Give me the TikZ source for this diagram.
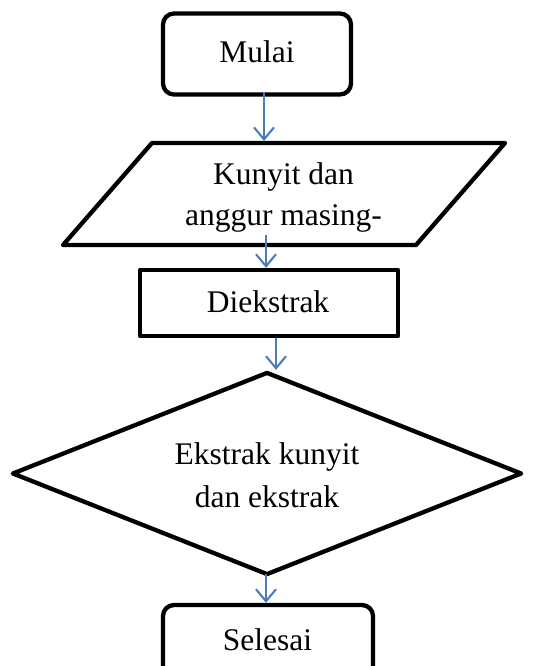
\documentclass[tikz,border=0pt]{standalone}
\usepackage{fontspec}
\setmainfont{Liberation Serif}
\usetikzlibrary{arrows.meta,shapes.geometric}
\definecolor{arrblue}{RGB}{74,126,187}
\begin{document}
\begin{tikzpicture}[x=1pt,y=-1pt,
  box/.style={draw=black, line width=4.3pt, inner sep=0pt, line join=round},
  shp/.style={draw=black, line width=4.3pt, line join=round},
  lbl/.style={anchor=base, inner sep=0pt, font=\fontsize{31.5}{41}\selectfont},
  arr/.style={draw=arrblue, line width=2.1pt, -{Straight Barb[length=12pt,width=20pt,line width=2.1pt]}}]
\useasboundingbox (0,0) rectangle (539,666);
\clip (0,0) rectangle (539,666);

% Mulai
\node[box, rounded corners=11pt, minimum width=188pt, minimum height=81pt] (start) at (257,54) {};
\node[lbl] (startl) at (257,63) {Mulai};

% parallelogram
\draw[shp] (152,143) -- (505,143) -- (416,245) -- (63,245) -- cycle;
\coordinate (ptop) at (328,141);
\coordinate (pbot) at (266,245);
\node[lbl] (inl1) at (283.5,184) {Kunyit dan};
\node[lbl] (inl2) at (283.5,225) {anggur masing-};

% Diekstrak
\node[box, minimum width=258pt, minimum height=66pt] (ext) at (269,303) {};
\node[lbl] (extl) at (268,312) {Diekstrak};

% decision
\node[box, diamond, minimum width=510pt, minimum height=203pt] (dec) at (267,473.5) {};
\node[lbl] (decl1) at (267,464) {Ekstrak kunyit};
\node[lbl] (decl2) at (267,507) {dan ekstrak};

% Selesai
\node[box, rounded corners=11pt, minimum width=210pt, minimum height=90pt] (fin) at (268,650) {};
\node[lbl] (finl) at (267.5,650) {Selesai};

% connectors
\draw[arr] ([xshift=7pt,yshift=5pt]start.south) -- ([xshift=7pt]start.south |- ptop);
\draw[arr] ([yshift=10pt]pbot) -- (pbot |- ext.north);
\draw[arr] ([xshift=7pt]ext.south) -- ([xshift=7pt]ext.south |- dec.north);
\draw[arr] ([xshift=-1pt,yshift=3pt]dec.south) -- ([xshift=-1pt]dec.south |- fin.north);
\end{tikzpicture}
\end{document}
